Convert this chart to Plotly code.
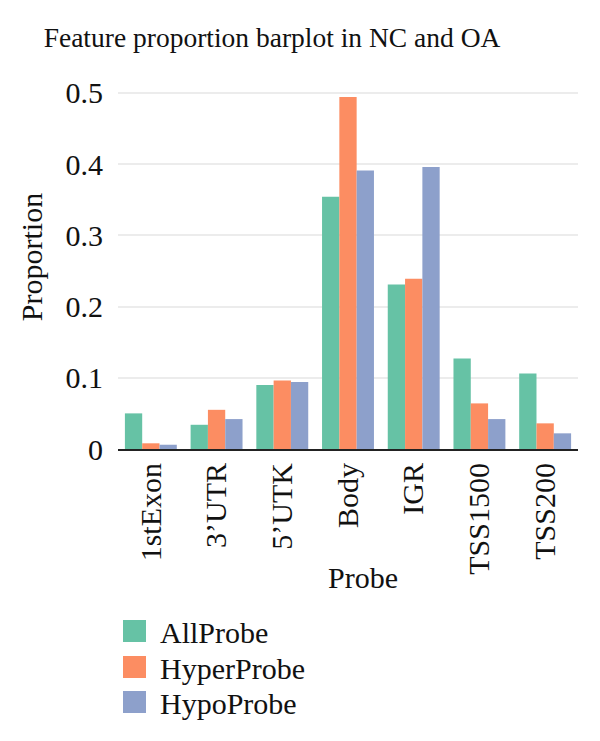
import plotly.graph_objects as go

categories = ["1stExon", "3'UTR", "5'UTK", "Body", "IGR", "TSS1500", "TSS200"]
tick_text = ["1stExon", "3’UTR", "5’UTK", "Body", "IGR", "TSS1500", "TSS200"]
series_names = ["AllProbe", "HyperProbe", "HypoProbe"]
all_probe = [0.050, 0.034, 0.090, 0.354, 0.231, 0.127, 0.106]
hyper_probe = [0.008, 0.055, 0.096, 0.494, 0.239, 0.064, 0.036]
hypo_probe = [0.006, 0.042, 0.094, 0.391, 0.396, 0.042, 0.022]
y_ticks = [0, 0.1, 0.2, 0.3, 0.4, 0.5]
y_tick_text = ["0", "0.1", "0.2", "0.3", "0.4", "0.5"]

colors = ["#66c2a5", "#fc8d62", "#8da0cb"]
values = [all_probe, hyper_probe, hypo_probe]
FONT = "Liberation Serif"

W, H = 600, 741
L, R, T, B = 118, 22, 65, 292
PW, PH = W - L - R, H - T - B

fig = go.Figure()
for name, vals, c in zip(series_names, values, colors):
    fig.add_trace(go.Bar(x=categories, y=vals, name=name, marker=dict(color=c, line=dict(width=0)),
                         showlegend=False))

def px_x(x):
    return (x - L) / PW

def px_y(y):
    return (H - B - y) / PH

shapes = []
annotations = []
legend_centers = [631, 667, 702]
for name, c, cy in zip(series_names, colors, legend_centers):
    shapes.append(dict(type="rect", xref="paper", yref="paper",
                       x0=px_x(123), x1=px_x(146), y0=px_y(cy + 11), y1=px_y(cy - 11),
                       fillcolor=c, line=dict(width=0)))
    annotations.append(dict(xref="paper", yref="paper", x=px_x(158), y=px_y(cy + 1),
                            text=name, showarrow=False, xanchor="left", yanchor="middle",
                            font=dict(family=FONT, size=30, color="#111")))
annotations.append(dict(xref="paper", yref="paper", x=px_x(363), y=px_y(577),
                        text="Probe", showarrow=False, xanchor="center", yanchor="middle",
                        font=dict(family=FONT, size=30, color="#111")))

fig.update_layout(
    width=W, height=H,
    margin=dict(l=L, r=R, t=T, b=B),
    paper_bgcolor="white", plot_bgcolor="white",
    barmode="group", bargap=0.21, bargroupgap=0,
    title=dict(text="Feature proportion barplot in NC and OA", x=272 / W, xref="container",
               xanchor="center", y=1 - 37 / H, yanchor="middle", yref="container",
               font=dict(family=FONT, size=27.5, color="#111")),
    font=dict(family=FONT, color="#111"),
    shapes=shapes, annotations=annotations,
)
fig.update_xaxes(
    tickmode="array", tickvals=categories, ticktext=tick_text, tickangle=-90,
    tickfont=dict(family=FONT, size=30, color="#111"),
    showline=True, linecolor="#222", linewidth=2, layer="below traces",
    showgrid=False, ticks="", automargin=False,
)
fig.update_yaxes(
    range=[0, 0.539], tickmode="array", tickvals=y_ticks, ticktext=y_tick_text,
    tickfont=dict(family=FONT, size=30, color="#111"),
    showgrid=True, gridcolor="#ececec", gridwidth=1.5, zeroline=False,
    ticks="outside", ticklen=8, tickcolor="rgba(0,0,0,0)", automargin=False,
    layer="below traces",
    title=dict(text="Proportion", font=dict(family=FONT, size=30, color="#111"), standoff=14),
)
fig.write_html("out.html")
